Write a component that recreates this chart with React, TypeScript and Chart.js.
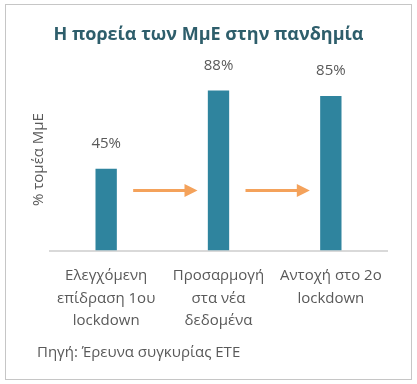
import React, { useEffect, useRef } from "react";
import { Chart, registerables } from "chart.js";

Chart.register(...registerables);

const titleText = "Η πορεία των ΜμΕ στην πανδημία";
const yAxisTitle = "% τομέα ΜμΕ";
const sourceText = "Πηγή: Έρευνα συγκυρίας ΕΤΕ";
const categories: string[][] = [
  ["Ελεγχόμενη", "επίδραση 1ου", "lockdown"],
  ["Προσαρμογή", "στα νέα", "δεδομένα"],
  ["Αντοχή στο 2ο", "lockdown"],
];
const values = [45, 88, 85];
const valueLabels = ["45%", "88%", "85%"];
const arrowLevel = 33;

const FONT = "'Open Sans', 'Noto Sans', sans-serif";
const TEXT = "#595959";
const BAR = "#2F849E";
const ARROW = "#F4A25B";

const decorPlugin = {
  id: "decor",
  beforeDraw(chart: any) {
    const ctx = chart.ctx;
    ctx.save();
    ctx.fillStyle = "#ffffff";
    ctx.fillRect(0, 0, chart.width, chart.height);
    ctx.strokeStyle = "#c6c6c6";
    ctx.lineWidth = 1;
    ctx.strokeRect(5.5, 4.5, chart.width - 11, chart.height - 9);
    ctx.restore();
  },
  afterDatasetsDraw(chart: any) {
    const ctx = chart.ctx;
    const xs = chart.scales.x;
    const ys = chart.scales.y;
    ctx.save();
    // value labels
    const meta = chart.getDatasetMeta(0);
    ctx.font = `15px ${FONT}`;
    ctx.fillStyle = TEXT;
    ctx.textAlign = "center";
    ctx.textBaseline = "middle";
    meta.data.forEach((bar: any, i: number) => {
      ctx.fillText(valueLabels[i], bar.x, bar.y - 25);
    });
    // arrows between categories
    const y = ys.getPixelForValue(arrowLevel);
    ctx.strokeStyle = ARROW;
    ctx.fillStyle = ARROW;
    ctx.lineWidth = 3;
    for (let i = 0; i < categories.length - 1; i++) {
      const x0 = xs.getPixelForValue(i) + 27;
      const x1 = xs.getPixelForValue(i + 1) - 21;
      ctx.beginPath();
      ctx.moveTo(x0, y);
      ctx.lineTo(x1 - 10, y);
      ctx.stroke();
      ctx.beginPath();
      ctx.moveTo(x1, y);
      ctx.lineTo(x1 - 13, y - 6.5);
      ctx.lineTo(x1 - 13, y + 6.5);
      ctx.closePath();
      ctx.fill();
    }
    // source
    ctx.font = `15px ${FONT}`;
    ctx.fillStyle = TEXT;
    ctx.textAlign = "left";
    ctx.textBaseline = "middle";
    ctx.fillText(sourceText, 37, chart.height - 31);
    ctx.restore();
  },
};

export default function App() {
  const ref = useRef<HTMLCanvasElement | null>(null);
  useEffect(() => {
    if (!ref.current) return;
    const chart = new Chart(ref.current, {
      type: "bar",
      data: {
        labels: categories,
        datasets: [
          {
            data: values,
            backgroundColor: BAR,
            barPercentage: 0.19,
            categoryPercentage: 1,
          },
        ],
      },
      options: {
        animation: false,
        responsive: true,
        maintainAspectRatio: false,
        layout: { padding: { left: 30, right: 30, top: 0, bottom: 38 } },
        plugins: {
          legend: { display: false },
          tooltip: { enabled: false },
          title: {
            display: true,
            text: titleText,
            color: "#2E5E6B",
            font: { family: FONT, size: 18, weight: "bold", lineHeight: 1.2 },
            padding: { top: 24, bottom: 23 },
          },
        },
        scales: {
          x: {
            grid: { display: false, drawTicks: false },
            border: { display: true, color: "#d9d9d9", width: 2 },
            ticks: {
              color: TEXT,
              font: { family: FONT, size: 15, lineHeight: 1.5 },
              padding: 14,
              maxRotation: 0,
              autoSkip: false,
            },
          },
          y: {
            min: 0,
            max: 100,
            grid: { display: false, drawTicks: false },
            border: { display: false },
            ticks: { display: false },
            title: {
              display: true,
              text: yAxisTitle,
              color: TEXT,
              font: { family: FONT, size: 15, lineHeight: 1.2 },
              padding: { top: 0, bottom: 2 },
            },
          },
        },
      },
      plugins: [decorPlugin],
    });
    return () => chart.destroy();
  }, []);
  return (
    <div style={{ position: "absolute", left: 0, top: 0, width: 417, height: 384 }}>
      <canvas ref={ref} />
    </div>
  );
}
